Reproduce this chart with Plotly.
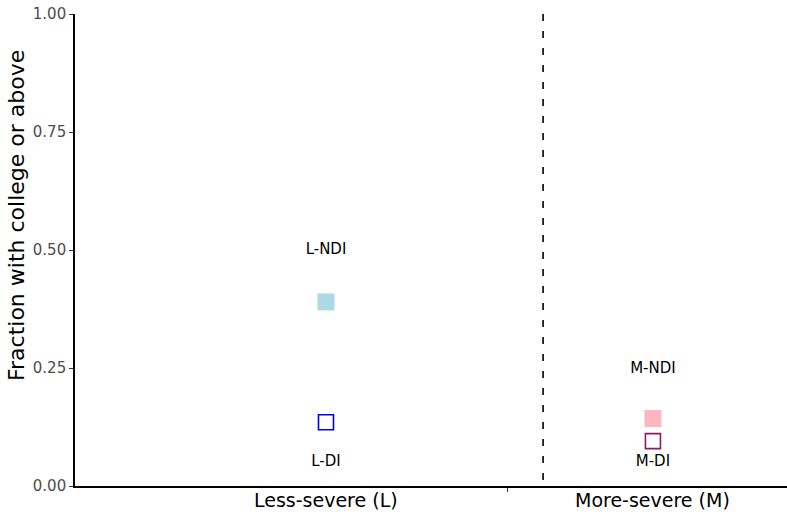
import plotly.graph_objects as go

# Data
categories = ["Less-severe (L)", "More-severe (M)"]
cat_x = [1.0, 2.0]
group_labels = ["L-NDI", "L-DI", "M-NDI", "M-DI"]
group_x = [1.0, 1.0, 2.0, 2.0]
fractions = [0.39, 0.135, 0.143, 0.095]
label_y = [0.50, 0.05, 0.248, 0.05]
marker_colors = ["#ADD8E6", "#0000FF", "#FFB6C1", "#8B1C62"]
marker_filled = [True, False, True, False]
divider_x = 1.664
mid_tick_x = 1.554
y_ticks = [0.0, 0.25, 0.5, 0.75, 1.0]
y_tick_text = ["0.00", "0.25", "0.50", "0.75", "1.00"]
y_title = "Fraction with college or above"

FONT = "DejaVu Sans, Liberation Sans, Arial, sans-serif"

fig = go.Figure()
for lab, x, y, c, f in zip(group_labels, group_x, fractions, marker_colors, marker_filled):
    fig.add_trace(go.Scatter(
        x=[x], y=[y], mode="markers", name=lab, showlegend=False,
        marker=dict(symbol="square" if f else "square-open", size=17 if f else 15,
                    color=c, line=dict(color=c, width=0 if f else 1.6)),
    ))

fig.add_trace(go.Scatter(
    x=group_x, y=label_y, mode="text", text=group_labels, showlegend=False,
    textfont=dict(family=FONT, size=15, color="black"),
    textposition="middle center",
))

fig.add_shape(type="line", x0=divider_x, x1=divider_x, y0=1, y1=0, yref="y", xref="x",
              line=dict(color="black", width=1.6, dash="7px,10px"))

for c, x in zip(categories, cat_x):
    fig.add_annotation(x=x, y=0, xref="x", yref="paper", text=c, showarrow=False,
                       yanchor="top", yshift=-1,
                       font=dict(family=FONT, size=19, color="black"))

fig.add_annotation(x=0, y=0.572, xref="paper", yref="paper", text=y_title,
                   showarrow=False, textangle=-90, xanchor="center", yanchor="middle",
                   xshift=-59, font=dict(family=FONT, size=22, color="black"))

fig.update_layout(
    width=787, height=514,
    margin=dict(l=75, r=0, t=14, b=28, autoexpand=False),
    plot_bgcolor="white", paper_bgcolor="white",
    font=dict(family=FONT),
    xaxis=dict(range=[0.2324, 2.41], showgrid=False, zeroline=False,
               showline=True, linecolor="black", linewidth=1.6,
               tickvals=[mid_tick_x], ticktext=[""], ticks="outside", ticklen=4,
               tickcolor="#333333", tickwidth=1.2),
    yaxis=dict(range=[0, 1], showgrid=False, zeroline=False,
               showline=True, linecolor="black", linewidth=1.6,
               tickvals=y_ticks, ticktext=y_tick_text, ticks="outside", ticklen=4,
               tickcolor="#333333", tickwidth=1.2,
               tickfont=dict(size=15, color="#4D4D4D")),
)

fig.write_html("out.html", config={"displayModeBar": False},
               post_script="document.body.style.margin='0';document.body.style.padding='0';")
